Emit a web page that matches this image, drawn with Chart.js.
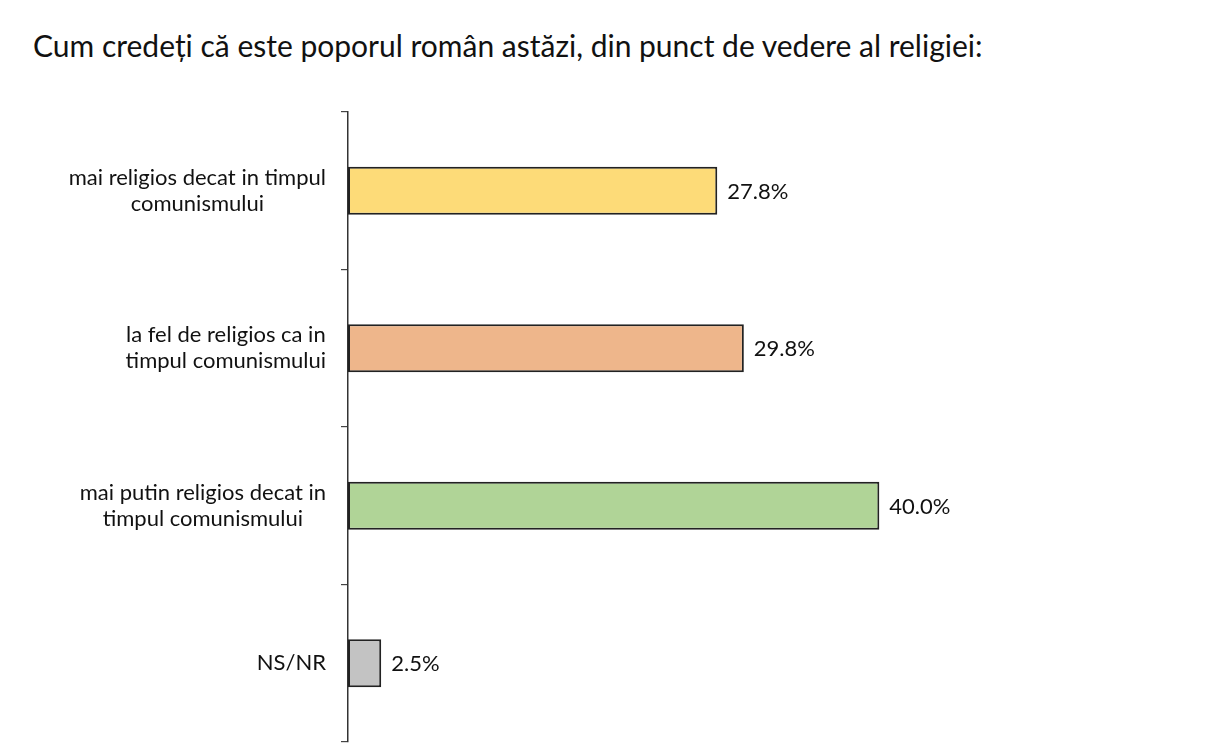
<!DOCTYPE html>
<html>
<head>
<meta charset="utf-8">
<script src="https://cdn.jsdelivr.net/npm/chart.js@4.4.1/dist/chart.umd.min.js"></script>
<style>
  html, body { margin: 0; padding: 0; background: #fff; }
  #wrap { position: relative; width: 1230px; height: 750px; }
  #title {
    position: absolute; left: 33px; top: 27px;
    font-family: Lato, "Open Sans", sans-serif; font-size: 30px; color: #111;
    white-space: nowrap;
  }
  canvas { position: absolute; left: 0; top: 0; }
</style>
</head>
<body>
<div id="wrap">
  <div id="title">Cum credeți că este poporul român astăzi, din punct de vedere al religiei:</div>
  <canvas id="chart" width="1230" height="750"></canvas>
</div>
<script>
// data
const categories = [
    ["mai religios decat in timpul", "comunismului"],
    ["la fel de religios ca in", "timpul comunismului"],
    ["mai putin religios decat in", "timpul comunismului"],
    ["NS/NR"]
];
const values = [27.8, 29.8, 40.0, 2.5];
const barColors = ["#FDDB78", "#EEB68B", "#B0D497", "#C3C3C3"];

const labelFont = "22px Lato, 'Open Sans', sans-serif";

// category labels: block right-aligned to the axis, lines centered inside the block
const categoryLabels = {
    id: "categoryLabels",
    afterDraw(chart) {
        const ctx = chart.ctx;
        const yScale = chart.scales.y;
        const rightEdge = yScale.right - 22;
        const lineHeight = 26;
        ctx.save();
        ctx.font = labelFont;
        ctx.fillStyle = "#111";
        ctx.textBaseline = "middle";
        ctx.textAlign = "center";
        categories.forEach((lines, i) => {
            const yc = yScale.getPixelForTick(i);
            const w = Math.max(...lines.map(l => ctx.measureText(l).width));
            const xc = rightEdge - w / 2;
            const top = yc - (lines.length - 1) * lineHeight / 2;
            lines.forEach((l, j) => ctx.fillText(l, xc, top + j * lineHeight));
        });
        ctx.restore();
    }
};

// value labels at the end of each bar
const valueLabels = {
    id: "valueLabels",
    afterDatasetsDraw(chart) {
        const ctx = chart.ctx;
        const meta = chart.getDatasetMeta(0);
        ctx.save();
        ctx.font = labelFont;
        ctx.fillStyle = "#111";
        ctx.textBaseline = "middle";
        ctx.textAlign = "left";
        meta.data.forEach((bar, i) => {
            ctx.fillText(values[i].toFixed(1) + "%", bar.x + 10, bar.y + 1);
        });
        ctx.restore();
    }
};

new Chart(document.getElementById("chart"), {
    type: "bar",
    data: {
        labels: categories,
        datasets: [{
            data: values,
            backgroundColor: barColors,
            borderColor: "#222",
            borderWidth: 2,
            borderSkipped: false,
            categoryPercentage: 1,
            barPercentage: 0.305
        }]
    },
    options: {
        indexAxis: "y",
        responsive: false,
        animation: false,
        layout: { padding: { top: 112, bottom: 8, left: 0, right: 85 } },
        scales: {
            x: { display: false, min: 0, max: 60 },
            y: {
                afterFit(scale) { scale.width = 348; },
                ticks: { display: false },
                grid: {
                    offset: true,
                    drawOnChartArea: false,
                    drawTicks: true,
                    tickLength: 7,
                    color: "#444",
                    lineWidth: 1.2
                },
                border: { display: true, color: "#333", width: 1.5 }
            }
        },
        plugins: {
            legend: { display: false },
            tooltip: { enabled: false }
        }
    },
    plugins: [categoryLabels, valueLabels]
});
</script>
</body>
</html>
